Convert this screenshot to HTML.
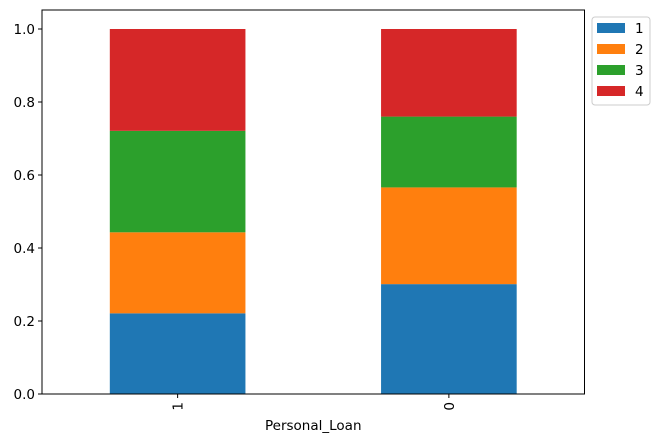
<!DOCTYPE html>
<html><head><meta charset="utf-8"><style>
body{margin:0;background:#fff;}
svg{display:block;font-family:"DejaVu Sans","Liberation Sans",sans-serif;}
</style></head><body>
<svg id="chart" width="660" height="443" viewBox="0 0 660 443"></svg>
<script>
const categories = ["1", "0"];
const seriesNames = ["1", "2", "3", "4"];
const s1 = [0.221, 0.301];
const s2 = [0.222, 0.265];
const s3 = [0.278, 0.194];
const s4 = [0.279, 0.240];
const yTicks = [0.0, 0.2, 0.4, 0.6, 0.8, 1.0];
const colors = ["#1f77b4", "#ff7f0e", "#2ca02c", "#d62728"];
const series = [s1, s2, s3, s4];

const NS = "http://www.w3.org/2000/svg";
const svg = document.getElementById("chart");
const L = 42, R = 584.5, T = 10, B = 394;
const FS = 13.5;
const y = v => B - v * 365;
const xUnit = (R - L) / 2;
const x = i => L + (i + 0.5) * xUnit;
function mk(tag, attrs, parent) {
  const e = document.createElementNS(NS, tag);
  for (const k in attrs) e.setAttribute(k, attrs[k]);
  (parent || svg).appendChild(e);
  return e;
}
categories.forEach((c, i) => {
  let base = 0;
  series.forEach((s, k) => {
    const v = s[i];
    const r = mk("rect", {x: x(i) - xUnit * 0.25, y: y(base + v), width: xUnit * 0.5, height: y(base) - y(base + v), fill: colors[k]});
    
    
    base += v;
  });
});
const fr = mk("rect", {x: L, y: T, width: R - L, height: B - T, fill: "none", stroke: "#000", "stroke-width": 1});


yTicks.forEach(t => {
  mk("line", {x1: L - 4, x2: L, y1: y(t), y2: y(t), stroke: "#000"});
  const tx = mk("text", {x: L - 7, y: y(t) + 5, "text-anchor": "end", "font-size": FS, fill: "#000"});
  tx.textContent = t.toFixed(1);
  
  
});
categories.forEach((c, i) => {
  mk("line", {x1: x(i), x2: x(i), y1: B, y2: B + 4, stroke: "#000"});
  const tx = mk("text", {x: x(i) + 5, y: B + 8, "text-anchor": "end", "font-size": FS, fill: "#000", transform: `rotate(-90 ${x(i) + 5} ${B + 8})`});
  tx.textContent = c;
  
  
});
const xt = mk("text", {x: (L + R) / 2, y: 430, "text-anchor": "middle", "font-size": FS, fill: "#000"});
xt.textContent = "Personal_Loan";


const lg = mk("g", {});


mk("rect", {x: 592, y: 17, width: 58, height: 88, rx: 3, fill: "#fff", stroke: "#ccc"}, lg);
seriesNames.forEach((n, k) => {
  const g = mk("g", {}, lg);
  
  
  const cy = 28 + k * 21;
  mk("rect", {x: 597, y: cy - 5, width: 28, height: 10, fill: colors[k]}, g);
  const t = mk("text", {x: 635, y: cy + 5, "font-size": FS, fill: "#000"}, g);
  t.textContent = n;
});
</script>
</body></html>
